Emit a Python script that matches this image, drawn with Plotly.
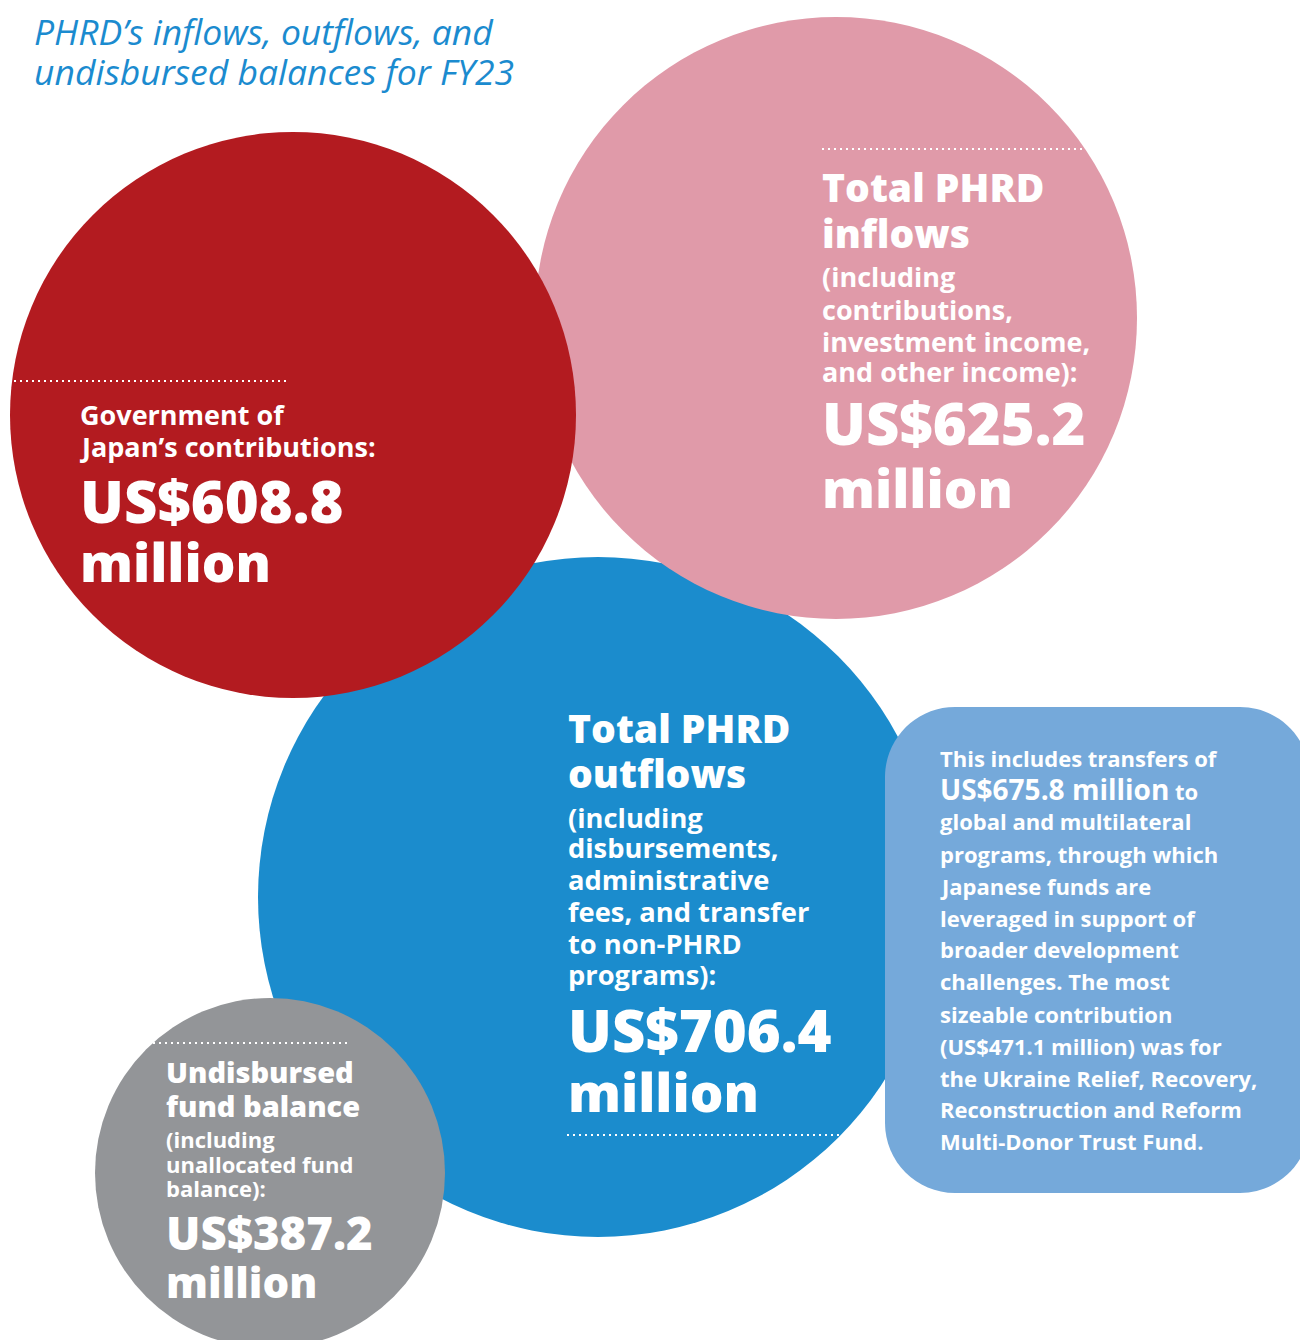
import plotly.graph_objects as go

# ---------------- data ----------------
categories = ["Government of Japan's contributions", "Total PHRD inflows",
              "Total PHRD outflows", "Undisbursed fund balance"]
values_musd = [608.8, 625.2, 706.4, 387.2]
transfer_total_musd = 675.8
ukraine_musd = 471.1

title_lines = ["PHRD\u2019s inflows, outflows, and", "undisbursed balances for FY23"]
head_lines = [
    ["Government of", "Japan\u2019s contributions:"],
    ["Total PHRD", "inflows"],
    ["Total PHRD", "outflows"],
    ["Undisbursed", "fund balance"],
]
sub_lines = [
    [],
    ["(including", "contributions,", "investment income,", "and other income):"],
    ["(including", "disbursements,", "administrative", "fees, and transfer",
     "to non-PHRD", "programs):"],
    ["(including", "unallocated fund", "balance):"],
]

# ---------------- style / layout ----------------
W, H = 1300, 1340
RED, PINK, BLUE, GRAY, LBLUE = "#B31B20", "#E09AA9", "#1B8CCD", "#939598", "#75A9DA"
TITLE_C = "#1B8BCF"
FONT = "Open Sans"

# circle geometry per category: (cx, cy, r, color)
geom = [
    (293, 415, 283, RED),
    (836, 318, 301, PINK),
    (598, 897, 340, BLUE),
    (270, 1173, 175, GRAY),
]
draw_order = [2, 1, 0, 3]

# text layout per category
text_x = [79, 821, 567, 165]
head_size = [27, 39, 39, 29]
head_w = [700, 800, 800, 800]
head_bl = [[425, 457], [202, 248], [743, 788], [1083, 1117]]
sub_size = [0, 27, 27.3, 22]
sub_bl = [[], [287, 320, 352, 382], [828, 858, 890, 922, 954, 985], [1148, 1173, 1197]]
val_size = [58, 58, 58, 45.5]
mil_size = [53, 53, 53, 42]
val_bl = [[523, 582], [445, 508], [1052, 1112], [1250, 1298]]
dots = [(14, 287, 381), (822, 1083, 149), (567, 842, 1135), (153, 350, 1043)]

fig = go.Figure()
fig.add_trace(go.Scatter(x=[0, W], y=[0, H], mode="markers",
                         marker=dict(opacity=0), hoverinfo="skip", showlegend=False))

for i in draw_order:
    cx, cy, r, col = geom[i]
    fig.add_shape(type="circle", xref="x", yref="y", x0=cx - r, x1=cx + r,
                  y0=cy - r, y1=cy + r, fillcolor=col, line=dict(width=0))

# rounded box
bx0, bx1, by0, by1, br = 885, 1310, 707, 1193, 70
k = 0.5523 * br
path = (f"M {bx0+br},{by0} L {bx1-br},{by0} "
        f"C {bx1-br+k},{by0} {bx1},{by0+br-k} {bx1},{by0+br} "
        f"L {bx1},{by1-br} "
        f"C {bx1},{by1-br+k} {bx1-br+k},{by1} {bx1-br},{by1} "
        f"L {bx0+br},{by1} "
        f"C {bx0+br-k},{by1} {bx0},{by1-br+k} {bx0},{by1-br} "
        f"L {bx0},{by0+br} "
        f"C {bx0},{by0+br-k} {bx0+br-k},{by0} {bx0+br},{by0} Z")
fig.add_shape(type="path", path=path, xref="x", yref="y", fillcolor=LBLUE,
              line=dict(width=0))

for x0, x1, y in dots:
    fig.add_shape(type="line", xref="x", yref="y", x0=x0, x1=x1, y0=y, y1=y,
                  line=dict(color="white", width=2, dash="2px,4px"))


def add_line(x, baseline, text, size, weight, color="white", style="normal",
             family=FONT):
    fig.add_annotation(x=x, y=baseline - 0.388 * size, xref="x", yref="y",
                       text=text, showarrow=False, xanchor="left", yanchor="middle",
                       borderpad=0,
                       font=dict(family=family, size=size, color=color,
                                 weight=weight, style=style))


# title
for t, bl in zip(title_lines, [45, 85]):
    add_line(33, bl, t, 35.5, 500, color=TITLE_C, style="italic")

for i in range(4):
    x = text_x[i]
    for t, bl in zip(head_lines[i], head_bl[i]):
        add_line(x, bl, t, head_size[i], head_w[i])
    for t, bl in zip(sub_lines[i], sub_bl[i]):
        add_line(x, bl, t, sub_size[i], 700)
    add_line(x, val_bl[i][0], f"US${values_musd[i]:.1f}", val_size[i], 800)
    add_line(x, val_bl[i][1], "million", mil_size[i], 800)

box_lines = [
    "This includes transfers of",
    f"<span style='font-size:28px'>US${transfer_total_musd:.1f} million</span> to",
    "global and multilateral",
    "programs, through which",
    "Japanese funds are",
    "leveraged in support of",
    "broader development",
    "challenges. The most",
    "sizeable contribution",
    f"(US${ukraine_musd:.1f} million) was for",
    "the Ukraine Relief, Recovery,",
    "Reconstruction and Reform",
    "Multi-Donor Trust Fund.",
]
box_bl = [767, 798, 830, 863, 895, 927, 958, 990, 1023, 1055, 1087, 1118, 1150]
for t, bl in zip(box_lines, box_bl):
    add_line(939, bl, t, 22, 700)

fig.update_layout(
    width=W, height=H, margin=dict(l=0, r=0, t=0, b=0, pad=0),
    plot_bgcolor="white", paper_bgcolor="white", showlegend=False,
    xaxis=dict(range=[0, W], visible=False, fixedrange=True),
    yaxis=dict(range=[H, 0], visible=False, fixedrange=True),
)

fig.write_html("out.html", config={"displayModeBar": False},
               post_script="document.body.style.margin='0';")
